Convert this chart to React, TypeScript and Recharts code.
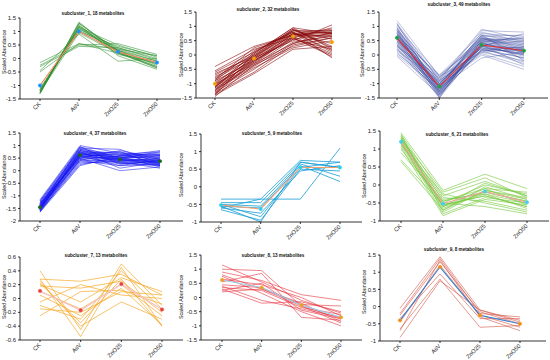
import React from 'react';
import { LineChart, Line, XAxis, YAxis } from 'recharts';

const categories = ['CK', 'AsV', 'ZnO25', 'ZnO50'];

const c1Title = 'subcluster_1, 18 metabolites';
const c1Lines = [
  [-1.25, 1.3, 0.3, -0.2], [-1.3, 1.35, 0.2, -0.3], [-1.2, 1.2, 0.35, -0.1], [-1.25, 1.15, 0.25, -0.35],
  [-1.3, 1.25, 0.1, -0.4], [-1.15, 1.1, 0.4, 0.0], [-1.2, 1.05, 0.3, -0.25], [-1.25, 1.2, 0.15, -0.15],
  [-1.1, 1.0, 0.45, 0.1], [-1.3, 1.3, 0.25, -0.3], [-1.2, 1.15, 0.5, 0.05], [-1.25, 0.95, 0.2, -0.2],
  [-1.15, 1.1, 0.3, -0.1], [-0.15, 0.55, 0.35, 0.1], [-0.25, 0.5, 0.55, 0.15], [-0.3, 0.45, 0.4, -0.05],
  [-0.45, 0.9, -0.1, 0.0], [-0.5, 0.55, 0.2, -0.35],
];
const c1Mean = [-1.0, 1.0, 0.25, -0.15];

const c2Title = 'subcluster_2, 32 metabolites';
const c2Lines = [
  [-0.4, 0.3, 0.7, 0.85], [-0.55, 0.2, 0.6, 0.95], [-0.6, 0.1, 0.85, 0.75], [-0.7, 0.0, 0.9, 0.3],
  [-0.75, -0.1, 0.5, 1.05], [-0.8, 0.05, 0.95, 0.2], [-0.85, -0.05, 0.75, 0.8], [-0.9, -0.2, 0.65, 0.7],
  [-0.9, 0.15, 0.8, 0.1], [-0.95, -0.15, 0.7, 0.75], [-1.0, -0.3, 0.4, 0.8], [-1.0, 0.0, 0.85, 0.55],
  [-1.05, -0.25, 0.6, 0.0], [-1.05, -0.1, 0.75, 0.9], [-1.1, -0.35, 0.3, 0.6], [-1.1, -0.05, 0.9, 0.25],
  [-1.1, -0.2, 0.55, 0.75], [-1.15, -0.4, 0.45, 0.65], [-1.15, 0.1, 0.8, 0.15], [-1.2, -0.15, 0.7, 0.8],
  [-1.2, -0.45, 0.25, 0.5], [-1.25, -0.3, 0.65, 0.05], [-1.25, -0.1, 0.85, 0.85], [-1.3, -0.5, 0.4, 0.7],
  [-1.3, -0.2, 0.6, -0.05], [-1.35, -0.6, 0.35, 0.6], [-1.35, -0.25, 0.75, 0.4], [-1.4, -0.65, 0.2, 0.3],
  [-1.4, 0.05, 0.95, 0.75], [-1.45, -0.35, 0.55, 0.2], [-0.65, -0.05, 0.8, -0.1], [-0.85, 0.25, 0.7, 0.65],
];
const c2Mean = [-1.0, -0.12, 0.65, 0.45];

const c3Title = 'subcluster_3, 49 metabolites';
const c3Lines = [
  [1.2, -0.75, 0.6, 0.45], [1.1, -0.9, 0.85, 0.8], [1.05, -1.0, 0.5, 0.3], [1.0, -0.7, 0.75, 0.65],
  [0.95, -1.2, 0.4, 0.2], [0.9, -0.85, 0.9, 0.55], [0.9, -1.3, 0.3, 0.0], [0.85, -1.05, 0.55, 0.4],
  [0.85, -0.8, 0.65, 0.7], [0.8, -1.15, 0.2, -0.1], [0.8, -1.4, 0.45, 0.25], [0.75, -0.95, 0.7, 0.5],
  [0.75, -1.25, 0.35, 0.1], [0.7, -1.1, 0.6, 0.35], [0.7, -0.75, 0.1, -0.2], [0.7, -1.35, 0.5, 0.6],
  [0.65, -1.0, 0.25, 0.05], [0.65, -1.2, 0.8, 0.45], [0.6, -1.45, 0.4, 0.15], [0.6, -0.9, 0.15, -0.3],
  [0.6, -1.15, 0.55, 0.3], [0.55, -1.3, 0.3, 0.75], [0.55, -1.0, 0.45, 0.0], [0.5, -1.1, 0.65, 0.2],
  [0.5, -1.4, 0.2, -0.1], [0.5, -0.85, 0.35, 0.5], [0.45, -1.25, 0.5, 0.1], [0.45, -1.05, 0.05, -0.4],
  [0.4, -1.5, 0.3, 0.25], [0.4, -1.15, 0.7, 0.4], [0.35, -0.95, 0.25, 0.05], [0.35, -1.3, 0.45, -0.15],
  [0.3, -1.2, 0.15, 0.3], [0.3, -1.0, 0.6, 0.15], [0.25, -1.35, 0.35, -0.05], [0.2, -1.1, 0.1, 0.2],
  [0.2, -1.45, 0.5, 0.35], [0.15, -0.9, 0.25, -0.25], [0.1, -1.25, 0.4, 0.1], [0.05, -1.05, 0.0, -0.5],
  [0.0, -1.2, 0.3, 0.0], [-0.05, -1.4, 0.2, 0.25], [0.95, -1.15, -0.1, 0.1], [1.1, -1.3, 0.35, -0.35],
  [0.65, -0.7, 0.45, 0.6], [0.85, -1.5, 0.6, 0.05], [0.3, -0.8, 0.55, 0.55], [0.75, -1.35, 0.15, 0.2],
  [0.55, -1.05, 0.7, -0.2],
];
const c3Mean = [0.6, -1.1, 0.35, 0.15];

const c4Title = 'subcluster_4, 37 metabolites';
const c4Lines = [
  [-1.15, 1.0, 0.7, 0.6], [-1.2, 0.95, 0.5, 0.75], [-1.2, 0.9, 0.85, 0.3], [-1.25, 0.85, 0.4, 0.5],
  [-1.25, 0.8, 0.6, 0.8], [-1.3, 0.75, 0.3, 0.2], [-1.3, 0.7, 0.75, 0.45], [-1.35, 0.9, 0.45, 0.35],
  [-1.35, 0.65, 0.55, 0.65], [-1.4, 0.6, 0.2, 0.25], [-1.4, 0.85, 0.65, 0.4], [-1.4, 0.55, 0.5, 0.55],
  [-1.45, 0.7, 0.35, 0.1], [-1.45, 0.5, 0.8, 0.5], [-1.45, 0.6, 0.4, 0.3], [-1.5, 0.45, 0.6, 0.7],
  [-1.5, 0.75, 0.1, 0.35], [-1.5, 0.4, 0.45, 0.2], [-1.55, 0.65, 0.55, 0.6], [-1.55, 0.35, 0.3, 0.4],
  [-1.55, 0.55, 0.7, 0.25], [-1.6, 0.3, 0.4, 0.45], [-1.6, 0.5, 0.0, 0.15], [-1.6, 0.25, 0.5, 0.55],
  [-1.65, 0.45, 0.35, 0.3], [-1.65, 0.2, 0.6, 0.65], [-1.45, 0.95, 0.25, 0.4], [-1.4, 0.8, 0.55, 0.15],
  [-1.35, 0.6, 0.65, 0.75], [-1.5, 0.7, 0.45, 0.3], [-1.55, 0.8, 0.35, 0.5], [-1.3, 0.5, 0.5, 0.35],
  [-1.5, 0.65, 0.75, 0.2], [-1.45, 0.4, 0.2, 0.45], [-1.6, 0.75, 0.5, 0.6], [-1.35, 0.55, 0.3, 0.25],
  [-1.5, 0.6, 0.45, 0.4],
];
const c4Mean = [-1.45, 0.62, 0.45, 0.38];

const c5Title = 'subcluster_5, 9 metabolites';
const c5Lines = [
  [-0.35, -0.35, 0.75, 0.7], [-0.45, -0.45, 0.7, 0.55], [-0.5, -0.55, 0.65, 0.3], [-0.55, -0.6, 0.6, 0.15],
  [-0.6, -0.35, -0.35, 1.1], [-0.5, -0.85, 0.55, 0.7], [-0.65, -0.95, 0.5, 0.45], [-0.6, -0.75, 0.45, 0.6],
  [-0.55, -1.0, 0.7, 0.55],
];
const c5Mean = [-0.52, -0.63, 0.55, 0.55];

const c6Title = 'subcluster_6, 21 metabolites';
const c6Lines = [
  [1.45, -0.15, 0.3, -0.1], [1.4, -0.3, 0.1, -0.3], [1.35, -0.45, -0.2, -0.45], [1.35, -0.6, -0.1, -0.55],
  [1.3, -0.2, 0.2, -0.35], [1.3, -0.55, -0.3, -0.6], [1.25, -0.7, -0.15, -0.4], [1.25, -0.35, -0.45, -0.7],
  [1.2, -0.5, 0.0, -0.25], [1.2, -0.8, -0.35, -0.5], [1.15, -0.4, -0.25, -0.65], [1.15, -0.6, 0.05, -0.3],
  [1.1, -0.25, -0.5, -0.75], [1.1, -0.65, -0.2, -0.45], [1.05, -0.85, -0.4, -0.55], [1.0, -0.5, -0.6, -0.8],
  [0.9, -0.45, -0.1, -0.2], [0.7, -0.55, -0.3, -0.6], [0.65, -0.7, -0.05, -0.4], [1.3, -0.6, -0.25, -0.5],
  [1.4, -0.75, -0.15, -0.35],
];
const c6Mean = [1.2, -0.52, -0.18, -0.48];

const c7Title = 'subcluster_7, 13 metabolites';
const c7Lines = [
  [0.4, -0.45, 0.5, -0.1], [0.28, -0.55, 0.45, -0.4], [0.28, 0.25, 0.35, 0.05], [0.2, -0.05, 0.3, 0.1],
  [0.18, 0.15, 0.25, -0.2], [0.1, -0.15, 0.2, -0.25], [0.05, -0.25, 0.15, -0.38], [-0.05, 0.2, 0.05, 0.0],
  [-0.1, -0.3, 0.4, -0.15], [-0.15, -0.2, 0.1, 0.05], [-0.25, 0.1, 0.12, -0.08], [0.25, -0.4, -0.05, -0.3],
  [0.22, -0.35, 0.28, -0.4],
];
const c7Mean = [0.11, -0.17, 0.21, -0.16];

const c8Title = 'subcluster_8, 13 metabolites';
const c8Lines = [
  [1.15, 0.55, -0.1, -0.55], [1.0, 0.95, -0.3, -0.75], [0.9, 0.6, 0.1, -0.1], [0.8, 0.3, -0.2, -0.85],
  [0.75, 0.15, -0.5, -1.0], [0.65, 0.45, 0.0, -0.65], [0.55, 0.85, -0.7, -0.8], [0.45, 0.35, -0.25, -0.3],
  [0.4, -0.1, -0.4, -0.7], [0.35, 0.25, -0.35, -0.6], [0.3, -0.2, -0.15, -0.5], [0.25, 0.5, -0.45, -0.75],
  [0.2, 0.3, -0.3, -0.9],
];
const c8Mean = [0.62, 0.35, -0.27, -0.7];

const c9Title = 'subcluster_9, 8 metabolites';
const c9Lines = [
  [-0.05, 1.45, -0.1, -0.4], [-0.2, 1.4, -0.2, -0.3], [-0.25, 1.3, -0.15, -0.5], [-0.35, 0.95, -0.35, -0.35],
  [-0.45, 1.2, -0.25, -0.6], [-0.65, 0.8, -0.6, -0.55], [-0.7, 1.35, -0.3, -0.7], [-0.9, 0.75, -0.1, -0.45],
];
const c9Mean = [-0.4, 1.15, -0.25, -0.5];

const ticksA = [-1.5, -1, -0.5, 0, 0.5, 1, 1.5];
const ticksB = [-2, -1.5, -1, -0.5, 0, 0.5, 1, 1.5];
const ticksC = [-1, -0.5, 0, 0.5, 1, 1.5];
const ticksD = [-0.6, -0.4, -0.2, 0, 0.2, 0.4, 0.6];

const yLabel = 'Scaled Abundance';
const FONT = '"Liberation Sans", Arial, sans-serif';

type Cfg = {
  title: string; lines: number[][]; mean: number[]; ticks: number[];
  lineColor: string; lineOpacity: number; lineWidth: number;
  meanLine: string | null; dotColor: string;
  axisX: number; rightX: number; topY: number; bottomY: number; ckX: number; z50X: number;
  titleX: number; titleY: number; labelX: number; labelY: number;
};

const panels: Cfg[] = [
  { title: c1Title, lines: c1Lines, mean: c1Mean, ticks: ticksA, lineColor: '#2f8f2f', lineOpacity: 0.7, lineWidth: 0.8,
    meanLine: '#f4845f', dotColor: '#1f8fff', axisX: 20, rightX: 181, topY: 18, bottomY: 99, ckX: 40, z50X: 157,
    titleX: 93, titleY: 14, labelX: 5, labelY: 52 },
  { title: c2Title, lines: c2Lines, mean: c2Mean, ticks: ticksA, lineColor: '#8b0a0a', lineOpacity: 0.75, lineWidth: 0.8,
    meanLine: null, dotColor: '#f5a000', axisX: 196, rightX: 361, topY: 12, bottomY: 98, ckX: 215, z50X: 332,
    titleX: 268, titleY: 10, labelX: 182, labelY: 55 },
  { title: c3Title, lines: c3Lines, mean: c3Mean, ticks: ticksA, lineColor: '#34449c', lineOpacity: 0.55, lineWidth: 0.6,
    meanLine: '#e8282a', dotColor: '#1fa040', axisX: 379, rightX: 548, topY: 12, bottomY: 98, ckX: 397, z50X: 524,
    titleX: 459, titleY: 5, labelX: 363, labelY: 55 },
  { title: c4Title, lines: c4Lines, mean: c4Mean, ticks: ticksB, lineColor: '#1515f0', lineOpacity: 0.75, lineWidth: 0.7,
    meanLine: null, dotColor: '#1a6a1a', axisX: 20, rightX: 183, topY: 133, bottomY: 221, ckX: 40, z50X: 160,
    titleX: 95, titleY: 134, labelX: 5, labelY: 177 },
  { title: c5Title, lines: c5Lines, mean: c5Mean, ticks: ticksC, lineColor: '#1a9fd6', lineOpacity: 0.9, lineWidth: 0.9,
    meanLine: '#f0a070', dotColor: '#2ad0f0', axisX: 201, rightX: 362, topY: 134, bottomY: 222, ckX: 221, z50X: 340,
    titleX: 272, titleY: 134, labelX: 182, labelY: 175 },
  { title: c6Title, lines: c6Lines, mean: c6Mean, ticks: ticksC, lineColor: '#7ac943', lineOpacity: 0.8, lineWidth: 0.8,
    meanLine: '#f4a0a0', dotColor: '#40d0f0', axisX: 380, rightX: 549, topY: 131, bottomY: 221, ckX: 401, z50X: 527,
    titleX: 457, titleY: 135, labelX: 365, labelY: 176 },
  { title: c7Title, lines: c7Lines, mean: c7Mean, ticks: ticksD, lineColor: '#f5a623', lineOpacity: 0.85, lineWidth: 0.8,
    meanLine: '#f4c0c8', dotColor: '#e84040', axisX: 20, rightX: 183, topY: 257, bottomY: 340, ckX: 40, z50X: 162,
    titleX: 96, titleY: 256, labelX: 5, labelY: 297 },
  { title: c8Title, lines: c8Lines, mean: c8Mean, ticks: ticksA, lineColor: '#e8303c', lineOpacity: 0.75, lineWidth: 0.8,
    meanLine: '#9ad0ec', dotColor: '#f0a020', axisX: 201, rightX: 362, topY: 255, bottomY: 340, ckX: 222, z50X: 341,
    titleX: 273, titleY: 256, labelX: 182, labelY: 297 },
  { title: c9Title, lines: c9Lines, mean: c9Mean, ticks: ticksC, lineColor: '#d04a3a', lineOpacity: 0.7, lineWidth: 0.8,
    meanLine: '#3a80d0', dotColor: '#f0901a', axisX: 380, rightX: 546, topY: 255, bottomY: 341, ckX: 400, z50X: 520,
    titleX: 454, titleY: 250, labelX: 365, labelY: 292 },
];

const XTick = (props: any) => {
  const { x, y, payload } = props;
  return (
    <text transform={`translate(${x + 1},${y + 1.5}) rotate(-45)`} textAnchor="end" fontSize={5.8}
      fontFamily={FONT} fill="#222">{payload.value}</text>
  );
};

const Panel = ({ cfg }: { cfg: Cfg }) => {
  const data = categories.map((c, i) => {
    const row: any = { cat: c, mean: cfg.mean[i] };
    cfg.lines.forEach((l, j) => { row['s' + j] = l[i]; });
    return row;
  });
  const yW = 15;
  const bx = cfg.axisX - 20;
  const by = cfg.topY - 8;
  const width = cfg.rightX - bx + 3;
  const height = cfg.bottomY - by + 24;
  const lo = cfg.ticks[0];
  const hi = cfg.ticks[cfg.ticks.length - 1];
  return (
    <>
      <div style={{ position: 'absolute', left: bx, top: by, width, height }}>
        <LineChart width={width} height={height} data={data}
          margin={{ left: 5, top: 8, right: 3, bottom: 2 }} style={{ overflow: 'visible' }}>
          <XAxis dataKey="cat" type="category" height={22} interval={0}
            padding={{ left: cfg.ckX - cfg.axisX, right: cfg.rightX - cfg.z50X }}
            stroke="#000" strokeWidth={0.8} tickSize={2} tick={<XTick />} />
          <YAxis width={yW} domain={[lo, hi]} ticks={cfg.ticks} allowDataOverflow interval={0}
            stroke="#000" strokeWidth={0.8} tickSize={2}
            tick={{ fontSize: 6, fill: '#222', fontFamily: FONT }} />
          {cfg.lines.map((_, j) => (
            <Line key={j} dataKey={'s' + j} type="linear" stroke={cfg.lineColor} strokeOpacity={cfg.lineOpacity}
              strokeWidth={cfg.lineWidth} dot={false} activeDot={false} isAnimationActive={false} />
          ))}
          <Line dataKey="mean" type="linear" stroke={cfg.meanLine ?? 'none'} strokeWidth={1.1}
            dot={{ r: 1.7, fill: cfg.dotColor, stroke: cfg.dotColor, strokeWidth: 0.5 }}
            activeDot={false} isAnimationActive={false} />
        </LineChart>
      </div>
      <div style={{ position: 'absolute', left: cfg.titleX, top: cfg.titleY, transform: 'translate(-50%,-50%)',
        fontFamily: FONT, fontWeight: 'bold', fontSize: 4.6, whiteSpace: 'nowrap', color: '#111', lineHeight: 1 }}>
        {cfg.title}
      </div>
      <div style={{ position: 'absolute', left: cfg.labelX, top: cfg.labelY,
        transform: 'translate(-50%,-50%) rotate(-90deg)', fontFamily: FONT, fontSize: 5.3,
        whiteSpace: 'nowrap', color: '#111', lineHeight: 1 }}>
        {yLabel}
      </div>
    </>
  );
};

export default function App() {
  return (
    <div style={{ position: 'absolute', left: 0, top: 0, width: 550, height: 360, background: '#fff', overflow: 'hidden' }}>
      {panels.map((p, i) => <Panel key={i} cfg={p} />)}
    </div>
  );
}
